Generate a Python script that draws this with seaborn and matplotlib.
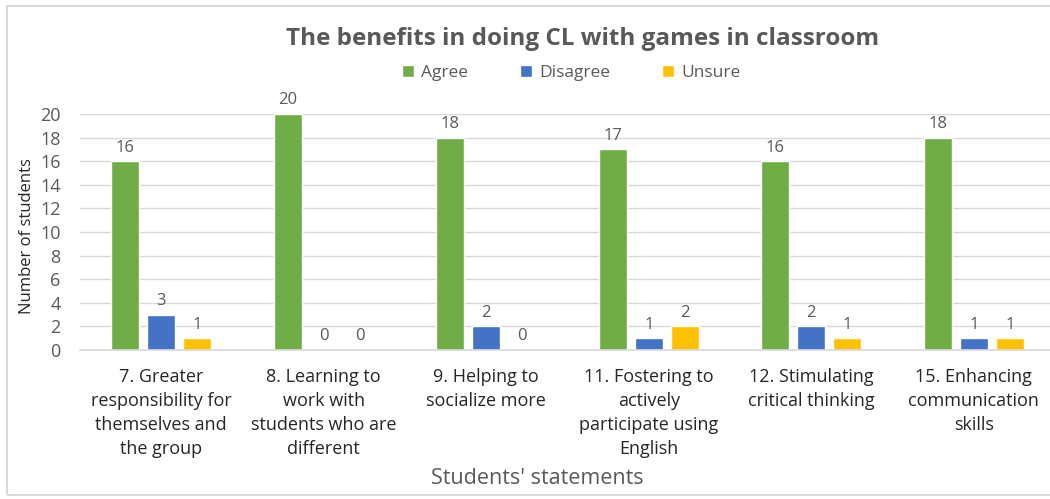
import matplotlib
matplotlib.use("Agg")
import matplotlib.pyplot as plt
import seaborn as sns
import pandas as pd
from matplotlib.patches import Rectangle

categories = [
    "7. Greater\nresponsibility for\nthemselves and\nthe group",
    "8. Learning to\nwork with\nstudents who are\ndifferent",
    "9. Helping to\nsocialize more",
    "11. Fostering to\nactively\nparticipate using\nEnglish",
    "12. Stimulating\ncritical thinking",
    "15. Enhancing\ncommunication\nskills",
]
agree = [16, 20, 18, 17, 16, 18]
disagree = [3, 0, 2, 1, 2, 1]
unsure = [1, 0, 0, 2, 1, 1]
series_names = ["Agree", "Disagree", "Unsure"]
colors = ["#70AD47", "#4472C4", "#FFC000"]
y_ticks = list(range(0, 21, 2))

rows = []
for name, vals in zip(series_names, [agree, disagree, unsure]):
    for c, v in zip(categories, vals):
        rows.append({"Statement": c, "Response": name, "Count": v})
df = pd.DataFrame(rows)

sns.set_style("white")
plt.rcParams["font.family"] = ["Open Sans", "DejaVu Sans"]

fig = plt.figure(figsize=(10.5, 4.99), dpi=100)
ax = fig.add_axes([80 / 1050, 149 / 499, 975 / 1050, 236 / 499])

sns.barplot(data=df, x="Statement", y="Count", hue="Response",
            palette=colors, hue_order=series_names, order=categories,
            width=0.666, gap=0.22, ax=ax, legend=True, saturation=1)

text_gray = "#595959"
for cont in ax.containers:
    ax.bar_label(cont, fmt="%d", padding=4, fontsize=12, color=text_gray)

ax.set_ylim(0, 20)
ax.set_xlim(-0.5, 5.5)
ax.set_yticks(y_ticks)
ax.tick_params(axis="y", labelsize=13, colors=text_gray, length=0, pad=14)
ax.tick_params(axis="x", labelsize=13, length=0, pad=13)
for lbl in ax.get_xticklabels():
    lbl.set_color("#262626")
    lbl.set_linespacing(1.42)
ax.grid(axis="y", color="#D9D9D9", linewidth=1)
ax.set_axisbelow(True)
for s in ["top", "right", "left"]:
    ax.spines[s].set_visible(False)
ax.spines["bottom"].set_color("#D9D9D9")
ax.spines["bottom"].set_linewidth(1.2)

ax.set_ylabel("Number of students", fontsize=12, color="#262626")
ax.yaxis.set_label_coords(27 / 1050, 1 - 236 / 499, transform=fig.transFigure)
ax.set_xlabel("Students' statements", fontsize=15.5, color=text_gray)
ax.xaxis.set_label_coords(537 / 1050, 1 - 478 / 499, transform=fig.transFigure)
ax.xaxis.label.set_va("center")
ax.yaxis.label.set_va("center")

leg = ax.legend(loc="center", bbox_to_anchor=(571 / 1050, 1 - 73 / 499),
                bbox_transform=fig.transFigure, ncol=3, frameon=False,
                fontsize=12.5, handlelength=0.7, handleheight=0.7,
                columnspacing=3.0, handletextpad=0.4)
for t in leg.get_texts():
    t.set_color(text_gray)

fig.text(583 / 1050, 1 - 39 / 499, "The benefits in doing CL with games in classroom",
         ha="center", va="center", fontsize=17.5, fontweight="bold", color=text_gray)

fig.patches.append(Rectangle((7 / 1050, 4 / 499), 1.1, 1 - 10 / 499,
                             transform=fig.transFigure, fill=False,
                             edgecolor="#D9D9D9", linewidth=1.5))

fig.savefig("out.png", dpi=100)
